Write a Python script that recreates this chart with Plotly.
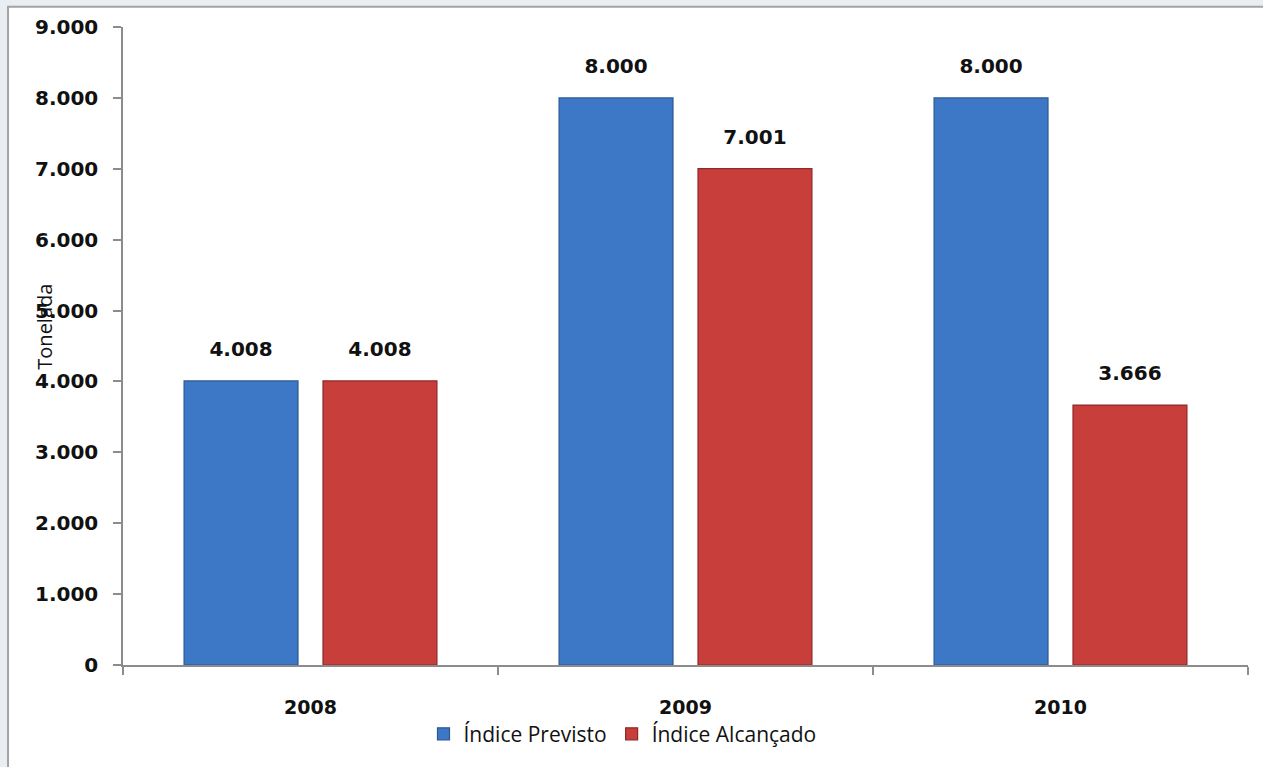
import plotly.graph_objects as go

# Annual figures in tonnes
anos = ["2008", "2009", "2010"]
indice_previsto = [4008, 8000, 8000]
indice_alcancado = [4008, 7001, 3666]

rotulos_previsto = ["4.008", "8.000", "8.000"]
rotulos_alcancado = ["4.008", "7.001", "3.666"]

fonte_num = "DejaVu Sans"
fonte_txt = "Open Sans"

series = [
    ("Índice Previsto", indice_previsto, rotulos_previsto, "#3d78c6", "#2b5892"),
    ("Índice Alcançado", indice_alcancado, rotulos_alcancado, "#c83e3b", "#8e2a28"),
]

fig = go.Figure()

for i, (nome, valores, rotulos, cor, borda) in enumerate(series):
    fig.add_trace(go.Bar(
        name=nome, x=anos, y=valores,
        offsetgroup=str(i),
        marker=dict(color=cor, line=dict(color=borda, width=1.2)),
    ))

# value labels: invisible markers in grouped scatter mode keep the text above each bar
for i, (nome, valores, rotulos, cor, borda) in enumerate(series):
    fig.add_trace(go.Scatter(
        x=anos, y=valores, text=rotulos,
        mode="markers+text", textposition="top center",
        offsetgroup=str(i),
        marker=dict(size=30, opacity=0),
        textfont=dict(family=fonte_num, size=20, color="#111111", weight="bold"),
        showlegend=False, hoverinfo="skip", cliponaxis=False,
    ))

# white chart frame with grey border over a pale surround
fig.add_shape(
    type="rect", xref="paper", yref="paper",
    x0=-0.1022, x1=1.03, y0=-0.2, y1=1.0316,
    fillcolor="white", line=dict(color="#a3a3a3", width=2), layer="below",
)

fig.add_annotation(
    text="Tonelada", xref="paper", yref="paper",
    x=-0.0836, y=0.531, textangle=-90, showarrow=False,
    font=dict(family=fonte_txt, size=20, color="#111111"),
)

fig.update_layout(
    width=1263, height=767,
    margin=dict(l=123, r=15, t=27, b=100),
    paper_bgcolor="#e9eef3",
    plot_bgcolor="white",
    separators=",.",
    barmode="group",
    bargap=0.259,
    bargroupgap=0.18,
    scattermode="group",
    scattergap=0.259,
    showlegend=True,
    legend=dict(
        orientation="h", x=0.444, xanchor="center", y=-0.1085, yanchor="middle",
        font=dict(family=fonte_txt, size=21, color="#111111"),
        bgcolor="rgba(0,0,0,0)", itemwidth=30, tracegroupgap=0,
    ),
    xaxis=dict(
        type="category",
        showline=True, linecolor="#8c8c8c", linewidth=1.5,
        ticks="outside", tickson="boundaries", ticklen=8, tickcolor="#8c8c8c",
        tickwidth=1.5, ticklabelstandoff=24,
        tickfont=dict(family=fonte_num, size=19, color="#111111", weight="bold"),
        showgrid=False,
    ),
    yaxis=dict(
        range=[0, 9000], dtick=1000, tickformat=",d",
        showline=True, linecolor="#8c8c8c", linewidth=1.5,
        ticks="outside", ticklen=8, tickcolor="#8c8c8c", tickwidth=1.5,
        ticklabelstandoff=11,
        tickfont=dict(family=fonte_num, size=20, color="#111111", weight="bold"),
        showgrid=False, zeroline=False,
    ),
)

fig.write_html("out.html")
